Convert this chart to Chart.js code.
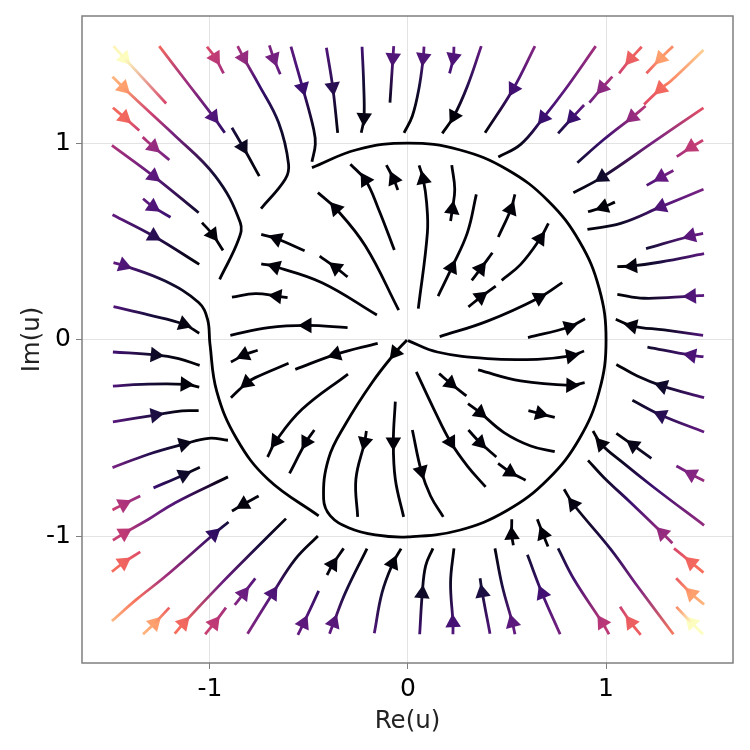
<!DOCTYPE html>
<html>
<head>
<meta charset="utf-8">
<title>Streamplot</title>
<script src="https://cdn.jsdelivr.net/npm/chart.js@4"></script>
<style>
  html, body { margin: 0; padding: 0; background: #fff; }
  canvas { display: block; }
</style>
</head>
<body>
<canvas id="stream-chart" width="750" height="750"></canvas>
<script>
const tickValues = [-1, 0, 1];
const tickLabels = ['-1', '0', '1'];
const xRange = [-1.646, 1.641];
const yRange = [-1.640, 1.645];

const magmaStops = ['#000004', '#140e36', '#3b0f70', '#641a80', '#8c2981', '#b73779', '#de4968', '#f7705c', '#fe9f6d', '#fecf92', '#fcfdbf'];

// one row per streamline, points in flow order
const streamX = [
  [-1.487,-1.431,-1.221],
  [-1.256,-1.125,-.983,-.925],
  [-1.015,-.973,-.931],
  [-.860,-.830,-.754,-.653,-.603,-.620,-.742],
  [-.700,-.678,-.645],
  [-.591,-.532,-.476,-.468,-.485],
  [-.412,-.380,-.355],
  [-.232,-.224,-.222,-.236],
  [-.072,-.076,-.091],
  [.081,.077,.056,.022,-.020],
  [-1.492,-1.436,-1.293,-1.192,-.973,-.847,-.855,-.951],
  [-1.490,-1.431,-1.357],
  [-1.340,-1.285,-1.205],
  [-1.495,-1.285,-1.057],
  [-.889,-.833,-.751],
  [-1.338,-1.288,-1.199],
  [-1.492,-1.285,-1.054],
  [-1.040,-.987,-.934],
  [-1.487,-1.436,-1.226,-1.057,-1.012,-1.0,-.966,-.866,-.707,-.451],
  [-1.487,-1.310,-1.133,-1.054],
  [-.305,-.510,-.704,-.897],
  [-.608,-.662,-.771,-.889],
  [-.157,-.434,-.670,-.741],
  [-.047,-.215,-.364,-.455],
  [-.069,-.148,-.215,-.291],
  [-.051,-.072,-.109],
  [-.305,-.364,-.446],
  [-.522,-.662,-.741],
  [-.005,-.064,-.182,-.316,-.401,-.426,-.392,-.300,-.165,0,.259,.5,.707,.866,.966,1,.966,.866,.707,.5,.259,0,-.259,-.485],
  [.232,.229,.210],
  [.370,.300,.232,.173],
  [.641,.532,.389],
  [.948,.788,.684,.569,.456],
  [1.180,1.125,1.066],
  [1.032,.981,.916],
  [.889,.830,.758],
  [1.338,1.276,1.204],
  [1.492,1.327,1.276,1.192],
  [1.200,1.133,.99,.855],
  [1.492,1.242,.981,.835],
  [1.490,1.431,1.357],
  [1.340,1.279,1.205],
  [1.492,1.279,1.074,.906],
  [1.045,.987,.909],
  [1.490,1.428,1.202],
  [1.495,1.276,1.133,1.057],
  [1.495,1.431,1.192,1.057],
  [1.490,1.293,1.133,1.049],
  [.052,.098,.094,.077,.056],
  [.215,.224,.236,.221],
  [.152,.221,.300,.345],
  [.322,.367,.426],
  [.456,.519,.540],
  [.305,.367,.443],
  [.473,.569,.667,.709],
  [.160,.401,.662,.779],
  [.606,.813,.894],
  [-1.490,-1.276,-1.158,-1.052],
  [-1.490,-1.343,-1.125,-1.054],
  [-1.490,-1.276,-1.141,-1.057],
  [-1.492,-1.310,-1.133,-1.007,-.909],
  [-1.285,-1.133,-1.051],
  [-1.492,-1.436,-1.352],
  [-1.490,-1.433,-1.310,-1.175,-.909],
  [-1.495,-1.436,-1.352],
  [-1.495,-1.369,-1.226,-.981,-.906],
  [-1.338,-1.279,-1.205],
  [-1.178,-1.133,-.939,-.763,-.616],
  [-1.024,-.978,-.919],
  [-.875,-.830,-.771],
  [-.810,-.684,-.569,-.455],
  [-.409,-.380,-.325],
  [-.556,-.527,-.451],
  [-.396,-.375,-.316,-.207],
  [-.170,-.131,-.077,-.035],
  [-.759,-.827,-.894],
  [-.153,-.364,-.569],
  [-.603,-.771,-.813,-.894],
  [-.303,-.535,-.667,-.709],
  [-.473,-.515,-.598],
  [-.754,-.830,-.889],
  [-.210,-.219,-.263,-.254],
  [-.064,-.074,-.064,-.022],
  [0,.148,.401,.653,.822,.889],
  [.354,.569,.822,.892],
  [.157,.215,.295],
  [.303,.364,.485,.620,.741],
  [.608,.667,.741],
  [.305,.364,.446],
  [.455,.515,.594],
  [.042,.131,.215,.300,.392],
  [.022,.067,.114,.178],
  [1.492,1.431,1.209],
  [1.495,1.285,1.158,1.052],
  [1.495,1.279,1.133],
  [1.229,1.138,1.052],
  [1.495,1.431,1.355],
  [1.495,1.242,1.074,.976,.934],
  [1.335,1.285,1.125,.990,.909],
  [1.492,1.431,1.343],
  [1.495,1.431,1.354],
  [1.490,1.431,1.355],
  [1.340,1.158,1.024,.835,.788],
  [1.175,1.125,1.071],
  [1.015,.981,.838,.758],
  [.768,.678,.603],
  [.540,.527,.476,.439],
  [.414,.375,.364],
  [.227,.227,.215,.232],
  [.059,.072,.089,.126],
  [.532,.524,.524],
  [.707,.682,.653]
];

const streamY = [
  [1.492,1.430,1.201],
  [1.492,1.320,1.134,1.052],
  [1.489,1.433,1.354],
  [1.492,1.433,1.298,1.103,.892,.816,.667],
  [1.496,1.430,1.349],
  [1.489,1.281,1.069,.993,.905],
  [1.484,1.284,1.052],
  [1.489,1.306,1.129,1.052],
  [1.492,1.433,1.205],
  [1.489,1.433,1.281,1.137,1.052],
  [1.337,1.281,1.146,1.052,.832,.596,.511,.308],
  [1.179,1.129,1.064],
  [1.030,.981,.914],
  [.988,.832,.646],
  [1.078,.981,.832],
  [.717,.677,.623],
  [.636,.528,.384],
  [.596,.536,.455],
  [.393,.379,.299,.190,.105,-.02,-.259,-.5,-.707,-.893],
  [.169,.127,.080,.034],
  [.063,.074,.063,.024],
  [.215,.223,.235,.218],
  [.127,.291,.372,.387],
  [.152,.477,.667,.748],
  [.457,.663,.812,.892],
  [.761,.816,.888],
  [.320,.367,.426],
  [.453,.514,.536],
  [0,-.064,-.217,-.428,-.602,-.809,-.893,-.953,-.990,-1.0,-.966,-.866,-.707,-.5,-.259,0,.259,.5,.707,.866,.966,1,.966,.875],
  [1.489,1.433,1.354],
  [1.492,1.289,1.137,1.049],
  [1.492,1.276,1.052],
  [1.492,1.264,1.129,.993,.929],
  [1.489,1.428,1.354],
  [1.337,1.281,1.205],
  [1.193,1.129,1.049],
  [1.492,1.430,1.354],
  [1.472,1.315,1.276,1.196],
  [1.188,1.132,1.019,.900],
  [1.179,1.007,.827,.748],
  [1.014,.980,.931],
  [.861,.827,.785],
  [.765,.677,.592,.562],
  [.700,.675,.651],
  [.541,.528,.464],
  [.438,.396,.376,.372],
  [.227,.223,.212,.232],
  [.024,.051,.071,.105],
  [.159,.545,.697,.816,.887],
  [.604,.663,.765,.888],
  [.223,.367,.545,.739],
  [.303,.362,.443],
  [.523,.663,.739],
  [.168,.218,.274],
  [.303,.384,.514,.592],
  [.017,.096,.215,.291],
  [.012,.066,.108],
  [-.061,-.076,-.095,-.129],
  [-.234,-.225,-.225,-.239],
  [-.416,-.381,-.360,-.359],
  [-.648,-.580,-.529,-.499,-.509],
  [-.751,-.685,-.646],
  [-.863,-.834,-.792],
  [-1.017,-.981,-.910,-.826,-.695],
  [-1.176,-1.130,-1.076],
  [-1.427,-1.316,-1.201,-.986,-.924],
  [-1.494,-1.438,-1.359],
  [-1.491,-1.438,-1.232,-1.054,-.907],
  [-1.494,-1.438,-1.359],
  [-1.345,-1.288,-1.210],
  [-1.491,-1.288,-1.113,-.995],
  [-1.193,-1.139,-1.058],
  [-1.497,-1.438,-1.274],
  [-1.491,-1.435,-1.283,-1.059],
  [-1.489,-1.283,-1.135,-1.059],
  [-.052,-.076,-.112],
  [-.017,-.073,-.149],
  [-.118,-.191,-.217,-.293],
  [-.173,-.352,-.513,-.594],
  [-.457,-.518,-.677],
  [-.792,-.834,-.868],
  [-.462,-.518,-.707,-.898],
  [-.313,-.518,-.707,-.898],
  [-.003,-.061,-.095,-.098,-.081,-.056],
  [-.152,-.208,-.230,-.217],
  [-.171,-.220,-.284],
  [-.323,-.369,-.470,-.538,-.567],
  [-.359,-.374,-.393],
  [-.457,-.521,-.594],
  [-.626,-.670,-.712],
  [-.162,-.352,-.518,-.640,-.746],
  [-.457,-.665,-.792,-.898],
  [-.085,-.078,-.036],
  [-.293,-.234,-.183,-.124],
  [-.467,-.382,-.306],
  [-.601,-.535,-.474],
  [-.716,-.682,-.640],
  [-.941,-.749,-.614,-.529,-.462],
  [-1.032,-.981,-.826,-.699,-.611],
  [-1.181,-1.130,-1.058],
  [-1.343,-1.288,-1.210],
  [-1.494,-1.435,-1.355],
  [-1.494,-1.249,-1.063,-.834,-.758],
  [-1.497,-1.435,-1.354],
  [-1.494,-1.435,-1.215,-1.058],
  [-1.494,-1.288,-1.091],
  [-1.494,-1.435,-1.249,-1.058],
  [-1.491,-1.283,-1.210],
  [-1.494,-1.435,-1.232,-1.058],
  [-1.494,-1.288,-1.147,-1.058],
  [-1.042,-.990,-.910],
  [-1.049,-.986,-.910]
];

// colour reading along each streamline, 0 dark to 1 pale
const streamSpeed = [
  [.98,1,.58],
  [.68,.45,.25,.18],
  [.6,.52,.46],
  [.45,.42,.2,.1,.03,.02,.02],
  [.35,.34,.3],
  [.28,.2,.04,.02,.02],
  [.25,.15,.02],
  [.22,.1,.03,.02],
  [.28,.25,.05],
  [.28,.25,.1,.01,0],
  [.85,.8,.55,.35,.1,.01,.01,.01],
  [.68,.68,.55],
  [.5,.42,.35],
  [.48,.28,.08],
  [.12,.06,.01],
  [.3,.25,.2],
  [.3,.15,.01],
  [.01,.01,.01],
  [.3,.25,.1,.01,0,0,0,0,0,0],
  [.25,.12,.03,.01],
  [.01,.01,.01,.01],
  [.01,.01,.01,.01],
  [.01,.01,.01,.01],
  [.01,.01,.01,.01],
  [.01,.01,.01,.01],
  [.01,.01,.01],
  [.01,.01,.01],
  [.01,.01,.01],
  [0,0],
  [.28,.25,.22],
  [.3,.15,.01,0],
  [.38,.22,.01],
  [.45,.28,.2,.05,.01],
  [.65,.66,.55],
  [.48,.4,.33],
  [.3,.2,.12],
  [.75,.8,.65],
  [.9,.75,.68,.6],
  [.5,.42,.2,.1],
  [.62,.35,.08,.02],
  [.55,.52,.45],
  [.35,.3,.25],
  [.35,.25,.07,.01],
  [.01,.01,.01],
  [.3,.28,.1],
  [.28,.12,.02,0],
  [.28,.25,.05,0],
  [.25,.06,.02,0],
  [.01,.01,.01,.01,.01],
  [.01,.01,.01,.01],
  [.01,.01,.01,.01],
  [.01,.01,.01],
  [.01,.01,.01],
  [.01,.01,.01],
  [.01,.01,.01,.01],
  [.01,.01,.01,.01],
  [.01,.01,.01],
  [.22,.07,.02,0],
  [.25,.12,.01,0],
  [.27,.12,.02,0],
  [.35,.15,.05,0,0],
  [.2,.08,.03],
  [.55,.48,.42],
  [.55,.52,.35,.25,.01],
  [.7,.67,.6],
  [.85,.7,.45,.18,.1],
  [.85,.8,.65],
  [.7,.68,.32,.12,.01],
  [.55,.52,.45],
  [.38,.32,.27],
  [.38,.25,.06,0],
  [.02,.02,.02],
  [.3,.28,.18],
  [.28,.27,.12,0],
  [.25,.1,.01,0],
  [.01,.01,.01],
  [.01,.01,.01],
  [.01,.01,.01,.01],
  [.01,.01,.01,.01],
  [.01,.01,.01],
  [.02,.02,.02],
  [.01,.01,.01,.01],
  [.01,.01,.01,.01],
  [.01,.01,.01,.01,.01,.01],
  [.01,.01,.01,.01],
  [.01,.01,.01],
  [.01,.01,.01,.01,.01],
  [.01,.01,.01],
  [.01,.01,.01],
  [.01,.01,.01],
  [.01,.01,.01,.01,.01],
  [.01,.01,.01,.01],
  [.25,.24,.08],
  [.25,.08,.03,0],
  [.3,.15,.05],
  [.08,.04,.01],
  [.42,.38,.33],
  [.42,.2,.06,.02,0],
  [.45,.42,.2,.06,.01],
  [.7,.68,.58],
  [.85,.8,.65],
  [1,1,.75],
  [.72,.36,.15,.03,.01],
  [.65,.66,.55],
  [.52,.5,.22,.1],
  [.35,.22,.1],
  [.3,.28,.12,.02],
  [.25,.12,.09],
  [.25,.23,.07,0],
  [.22,.07,.02,0],
  [.01,.01,.01],
  [.01,.01,.01]
];

// which point of each streamline carries the arrow head
const arrowAt = [
  1,2,1,1,1,1,1,2,1,1,1,1,1,1,1,1,1,1,1,2,1,1,2,2,2,1,1,1,1,
  1,2,1,2,1,1,1,1,2,1,2,1,1,1,1,1,2,1,2,3,1,1,1,1,1,2,2,1,
  1,2,1,2,1,1,1,1,3,1,1,1,1,1,1,1,1,2,1,1,2,2,1,1,1,1,
  4,2,1,1,1,1,1,2,1,1,1,1,1,1,3,1,1,1,1,3,1,1,1,1,1,1,1,1,1
];

const greyAxis = '#7f7f7f';
const greyGrid = 'rgba(0, 0, 0, 0.11)';

function magma(v) {
  const t = Math.min(Math.max(v, 0), 1) * (magmaStops.length - 1);
  const i = Math.min(Math.floor(t), magmaStops.length - 2);
  const f = t - i;
  const rgb = [1, 3, 5].map((k) => {
    const a = parseInt(magmaStops[i].substr(k, 2), 16);
    const b = parseInt(magmaStops[i + 1].substr(k, 2), 16);
    return Math.round(a + (b - a) * f);
  });
  return `rgb(${rgb[0]}, ${rgb[1]}, ${rgb[2]})`;
}

function speedAt(i, k) {
  const row = streamSpeed[i];
  return row[Math.min(k, row.length - 1)];
}

// linear gradient from the first to the last point of a streamline
function streamColor(chart, i) {
  const xs = streamX[i];
  const ys = streamY[i];
  if (!chart.chartArea) return magma(speedAt(i, 0));
  const px = xs.map((v) => chart.scales.x.getPixelForValue(v));
  const py = ys.map((v) => chart.scales.y.getPixelForValue(v));
  const n = xs.length - 1;
  const dx = px[n] - px[0];
  const dy = py[n] - py[0];
  const len = dx * dx + dy * dy;
  const grad = chart.ctx.createLinearGradient(px[0], py[0], px[n], py[n]);
  px.forEach((p, k) => {
    const t = ((p - px[0]) * dx + (py[k] - py[0]) * dy) / len;
    grad.addColorStop(Math.min(Math.max(t, 0), 1), magma(speedAt(i, k)));
  });
  return grad;
}

function arrowRotation(i) {
  const k = arrowAt[i];
  const n = streamX[i].length - 1;
  const a = Math.max(k - 1, 0);
  const b = Math.min(k + 1, n);
  return Math.atan2(streamX[i][b] - streamX[i][a], streamY[i][b] - streamY[i][a]) * 180 / Math.PI;
}

const lineDatasets = streamX.map((xs, i) => ({
  data: xs.map((x, k) => ({ x: x, y: streamY[i][k] })),
  showLine: true,
  tension: 0.4,
  borderWidth: 2.8,
  borderColor: (ctx) => streamColor(ctx.chart, i),
  pointRadius: 0,
  pointHoverRadius: 0,
}));

const arrowDataset = {
  data: streamX.map((xs, i) => ({ x: xs[arrowAt[i]], y: streamY[i][arrowAt[i]] })),
  showLine: false,
  pointStyle: 'triangle',
  pointRadius: 9,
  pointBorderWidth: 0,
  pointRotation: streamX.map((xs, i) => arrowRotation(i)),
  pointBackgroundColor: streamX.map((xs, i) => magma(speedAt(i, arrowAt[i]))),
};

const framePlugin = {
  id: 'frame',
  beforeDatasetsDraw(chart) {
    const { ctx, chartArea: a } = chart;
    ctx.save();
    ctx.strokeStyle = greyAxis;
    ctx.lineWidth = 1.5;
    ctx.strokeRect(a.left, a.top, a.right - a.left, a.bottom - a.top);
    ctx.restore();
  },
};

function axisOptions(range, title, fitKey, fitSize, titlePadding) {
  return {
    type: 'linear',
    min: range[0],
    max: range[1],
    afterBuildTicks: (scale) => {
      scale.ticks = tickValues.map((v) => ({ value: v }));
    },
    afterFit: (scale) => {
      scale[fitKey] = fitSize;
      scale.paddingTop = 0;
      scale.paddingBottom = 0;
      scale.paddingLeft = 0;
      scale.paddingRight = 0;
    },
    ticks: {
      color: '#000',
      autoSkip: false,
      maxRotation: 0,
      padding: 5,
      font: { family: 'DejaVu Sans', size: 25 },
      callback: (v) => tickLabels[tickValues.indexOf(v)],
    },
    grid: { color: greyGrid, lineWidth: 1, tickLength: 6, tickColor: greyAxis },
    border: { display: false },
    title: {
      display: true,
      text: title,
      color: '#222',
      padding: titlePadding,
      font: { family: 'DejaVu Sans', size: 24.5 },
    },
  };
}

new Chart(document.getElementById('stream-chart'), {
  type: 'scatter',
  data: { datasets: [...lineDatasets, arrowDataset] },
  options: {
    responsive: false,
    animation: false,
    devicePixelRatio: 1,
    layout: { padding: { top: 16, right: 17, left: 0, bottom: 0 } },
    plugins: { legend: { display: false }, tooltip: { enabled: false } },
    scales: {
      x: axisOptions(xRange, 'Re(u)', 'height', 87, { top: 2, bottom: 14 }),
      y: axisOptions(yRange, 'Im(u)', 'width', 82, { top: 18, bottom: 2 }),
    },
  },
  plugins: [framePlugin],
});
</script>
</body>
</html>
